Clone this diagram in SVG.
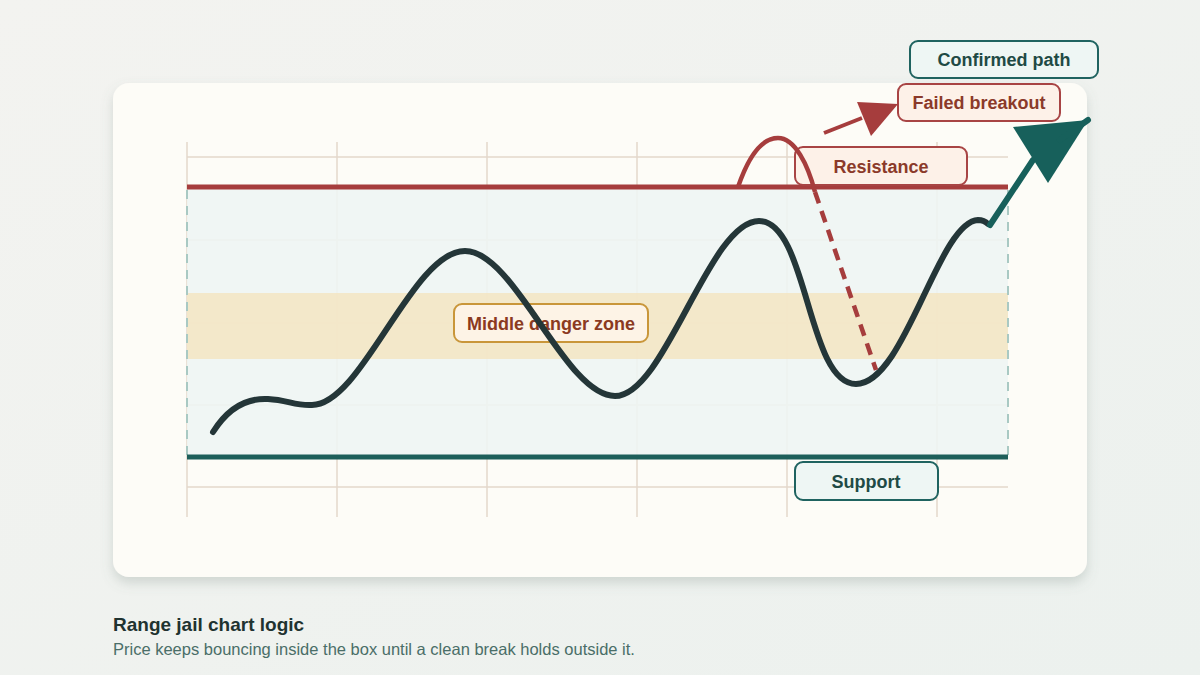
<svg xmlns="http://www.w3.org/2000/svg" width="1200" height="675" viewBox="0 0 1200 675">
<defs>
<linearGradient id="bg" x1="0" y1="0" x2="1" y2="1"><stop offset="0" stop-color="#f3f3f0"/><stop offset="1" stop-color="#ecf1ee"/></linearGradient>
<filter id="sh" x="-10%" y="-10%" width="120%" height="125%"><feDropShadow dx="0" dy="6" stdDeviation="6" flood-color="#6f7f78" flood-opacity="0.25"/></filter>
<style>
.grid{stroke:#e3d7cc;stroke-width:1.5;fill:none}
.lbl{font-family:"Liberation Sans",Arial,sans-serif;font-weight:700;font-size:18px;text-anchor:middle}
.redbox{fill:#fdf1e8;stroke:#a84444;stroke-width:2}
.tealbox{fill:#eef6f4;stroke:#1f6360;stroke-width:2}
.edge{stroke:#a9c9c3;stroke-width:2;stroke-dasharray:9 7;fill:none}
</style>
</defs>
<rect width="1200" height="675" fill="url(#bg)"/>
<rect x="113" y="83" width="974" height="494" rx="16" fill="#fdfcf7" filter="url(#sh)"/>
<g id="grid">
<path class="grid" d="M187,142V517M337,142V517M487,142V517M637,142V517M787,142V517M937,142V517"/>
<path class="grid" d="M187,157H1008M187,240H1008M187,323H1008M187,405H1008M187,487H1008"/>
</g>
<g id="range">
<rect x="187" y="187" width="821" height="270" fill="#eef5f3" fill-opacity="0.9"/>
<rect x="187" y="293" width="821" height="66" fill="#f3e6c6" fill-opacity="0.92"/>
<path class="edge" d="M187,190V455M1008,190V455"/>
<line x1="187" y1="187" x2="1008" y2="187" stroke="#a63d3d" stroke-width="5"/>
<line x1="187" y1="457" x2="1008" y2="457" stroke="#1d5f5a" stroke-width="5"/>
</g>
<g id="label-resistance"><rect class="redbox" x="795" y="147" width="172" height="38" rx="8"/><text class="lbl" x="881" y="172.5" fill="#8b3a2a">Resistance</text></g>
<g id="label-support"><rect class="tealbox" x="795" y="462" width="143" height="38" rx="8"/><text class="lbl" x="866" y="487.5" fill="#1f4a45">Support</text></g>
<g id="label-danger"><rect x="454" y="304" width="194" height="38" rx="8" fill="#fdf3e6" stroke="#c9963a" stroke-width="2"/><text class="lbl" x="551" y="329.5" fill="#8b3a1f">Middle danger zone</text></g>
<g id="label-failed"><rect class="redbox" x="898" y="84" width="162" height="37" rx="8"/><text class="lbl" x="979" y="108.5" fill="#8b3a2a">Failed breakout</text></g>
<g id="label-confirmed"><rect class="tealbox" x="910" y="41" width="188" height="37" rx="8"/><text class="lbl" x="1004" y="65.5" fill="#1f4a45">Confirmed path</text></g>
<g id="connectors">
<path d="M213,432 C230,405 250,398 268,399 C288,400 295,406 312,405 C362,405 412,251 465,251 C515,251 565,396 615,396 C665,396 709,221 759,221 C808,221 807,384 856,384 C905,384 938,222 978,220 C983,220 986,222 988,224" fill="none" stroke="#243638" stroke-width="6" stroke-linecap="round"/>
<path d="M738,187 C750,152 764,138 778,138 C795,138 808,165 815,192" fill="none" stroke="#a63d3d" stroke-width="4.5"/>
<path d="M815,192 L876,370" fill="none" stroke="#a63d3d" stroke-width="4.5" stroke-dasharray="12 8"/>
<line x1="824" y1="133" x2="862" y2="118" stroke="#a63d3d" stroke-width="4"/>
<polygon points="898,104 857,102 871,136" fill="#a63d3d"/>
<line x1="990" y1="225" x2="1033" y2="160" stroke="#17605b" stroke-width="6" stroke-linecap="round"/>
<polygon points="1088,120 1013,127 1048,183" fill="#17605b"/>
<line x1="1060" y1="140" x2="1088" y2="120" stroke="#17605b" stroke-width="6" stroke-linecap="round"/>
</g>
<g id="caption" font-family="'Liberation Sans',Arial,sans-serif">
<text x="113" y="631" font-size="19" font-weight="700" fill="#1f3330">Range jail chart logic</text>
<text x="113" y="655" font-size="16.5" fill="#4a6e68">Price keeps bouncing inside the box until a clean break holds outside it.</text>
</g>
</svg>
